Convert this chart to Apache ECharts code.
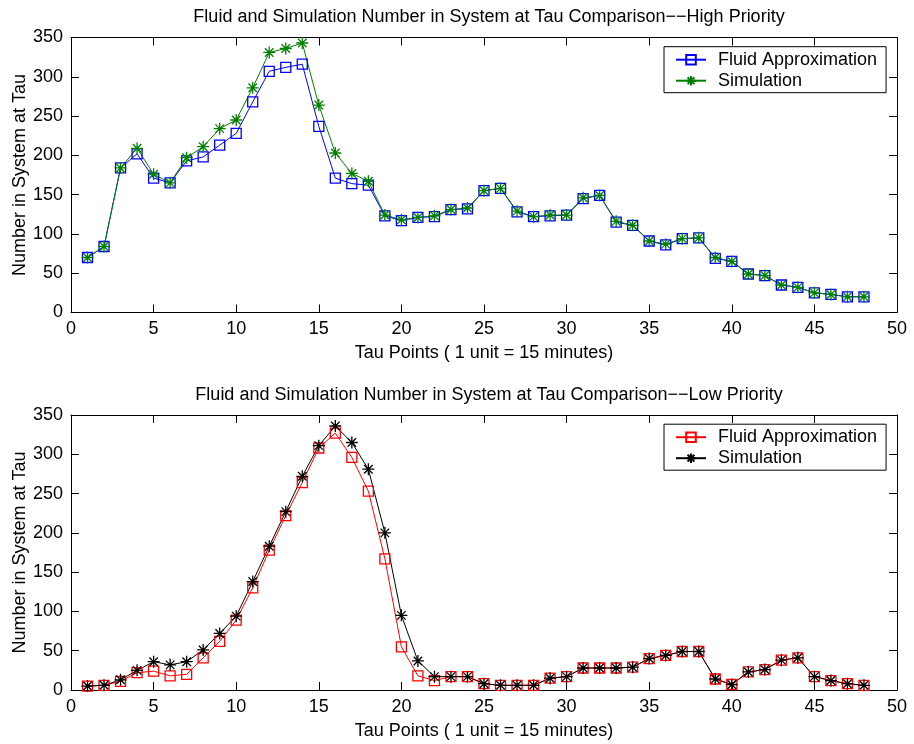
<!DOCTYPE html>
<html>
<head>
<meta charset="utf-8">
<title>Fluid and Simulation Number in System at Tau</title>
<script src="https://cdn.jsdelivr.net/npm/echarts@6/dist/echarts.min.js"></script>
<style>
  html, body { margin: 0; padding: 0; background: #ffffff; }
  #chart { width: 914px; height: 744px; }
</style>
</head>
<body>
<div id="chart"></div>
<script>
// Tau points (1 unit = 15 minutes)
const tau = [1, 2, 3, 4, 5, 6, 7, 8, 9, 10, 11, 12, 13, 14, 15, 16, 17, 18, 19, 20,
             21, 22, 23, 24, 25, 26, 27, 28, 29, 30, 31, 32, 33, 34, 35, 36, 37, 38, 39, 40,
             41, 42, 43, 44, 45, 46, 47, 48];

// High priority class
const highFluid = [70, 84, 184, 202, 171, 165, 193, 198, 213, 228, 268, 307, 312, 316, 237, 171, 164, 162, 123, 117,
                   121, 122, 131, 132, 155, 158, 128, 122, 123, 124, 145, 149, 115, 111, 91, 86, 94, 95, 69, 65,
                   49, 47, 35, 32, 25, 23, 20, 20];
const highSim   = [70, 84, 184, 209, 176, 165, 197, 211, 234, 245, 286, 331, 336, 343, 264, 203, 177, 167, 124, 118,
                   121, 123, 131, 133, 155, 158, 129, 122, 124, 124, 146, 149, 116, 111, 91, 87, 94, 95, 70, 65,
                   49, 47, 35, 32, 25, 23, 20, 20];

// Low priority class
const lowFluid = [5, 6, 11, 22, 24, 18, 20, 41, 62, 89, 130, 178, 222, 264, 308, 327, 296, 253, 167, 55,
                  18, 12, 17, 17, 8, 6, 6, 6, 15, 17, 28, 28, 28, 29, 40, 44, 49, 49, 14, 7,
                  23, 26, 38, 41, 17, 12, 8, 6];
const lowSim   = [5, 6, 13, 25, 36, 32, 36, 51, 72, 94, 138, 183, 227, 272, 311, 336, 315, 281, 200, 95,
                  37, 17, 17, 17, 8, 6, 6, 6, 15, 17, 28, 28, 28, 29, 40, 44, 49, 49, 14, 7,
                  23, 26, 38, 41, 17, 12, 8, 6];

// Axis ticks
const xTicks = [0, 5, 10, 15, 20, 25, 30, 35, 40, 45, 50];
const yTicks = [0, 50, 100, 150, 200, 250, 300, 350];

const titles = [
  'Fluid and Simulation Number in System at Tau Comparison\u2212\u2212High Priority',
  'Fluid and Simulation Number in System at Tau Comparison\u2212\u2212Low Priority'
];
const xName = 'Tau Points ( 1 unit = 15 minutes)';
const yName = 'Number in System at Tau';
const legendText = {
  hiFluid: 'Fluid Approximation', hiSim: 'Simulation',
  loFluid: 'Fluid Approximation', loSim: 'Simulation'
};

const FONT = '"Liberation Sans", Arial, Helvetica, sans-serif';
const FS = 18;
const STAR = 'path://M0,5L10,5M5,0L5,10M1.46,1.46L8.54,8.54M8.54,1.46L1.46,8.54';

const gridTops = [37.5, 415];
const plotH = 275;

function pairs(ys) { return tau.map((t, i) => [t, ys[i]]); }

const xStep = xTicks[1] - xTicks[0];
const yStep = yTicks[1] - yTicks[0];

const grids = [], xAxes = [], yAxes = [], series = [], legends = [], titleOpts = [];

gridTops.forEach((top, g) => {
  grids.push({ left: 71, width: 826, top: top, height: plotH, show: false,
               containLabel: false, outerBoundsMode: 'none' });

  const lineCommon = { show: true, onZero: false, lineStyle: { color: '#000', width: 1 } };
  const tickCommon = { show: true, inside: true, length: 8, lineStyle: { color: '#000', width: 1 } };

  xAxes.push({
    gridIndex: g, type: 'value', position: 'bottom',
    min: xTicks[0], max: xTicks[xTicks.length - 1], interval: xStep,
    axisLine: lineCommon, axisTick: tickCommon, splitLine: { show: false },
    axisLabel: { color: '#000', fontFamily: FONT, fontSize: FS, margin: 8 },
    name: xName, nameLocation: 'middle', nameGap: 32, nameMoveOverlap: false,
    nameTextStyle: { color: '#000', fontFamily: FONT, fontSize: FS }
  });
  xAxes.push({
    gridIndex: g, type: 'value', position: 'top',
    min: xTicks[0], max: xTicks[xTicks.length - 1], interval: xStep,
    axisLine: lineCommon, axisTick: tickCommon, splitLine: { show: false },
    axisLabel: { show: false }
  });
  yAxes.push({
    gridIndex: g, type: 'value', position: 'left',
    min: yTicks[0], max: yTicks[yTicks.length - 1], interval: yStep,
    axisLine: lineCommon, axisTick: tickCommon, splitLine: { show: false },
    axisLabel: { color: '#000', fontFamily: FONT, fontSize: FS, margin: 8 },
    name: yName, nameLocation: 'middle', nameGap: 42, nameRotate: 90, nameMoveOverlap: false,
    nameTextStyle: { color: '#000', fontFamily: FONT, fontSize: FS }
  });
  yAxes.push({
    gridIndex: g, type: 'value', position: 'right',
    min: yTicks[0], max: yTicks[yTicks.length - 1], interval: yStep,
    axisLine: lineCommon, axisTick: tickCommon, splitLine: { show: false },
    axisLabel: { show: false }
  });

  titleOpts.push({
    text: titles[g], left: 484, top: top - 34, textAlign: 'center',
    textStyle: { color: '#000', fontFamily: FONT, fontSize: FS, fontWeight: 'normal' }
  });
});

function lineSeries(name, g, ys, color, symbol, size) {
  return {
    name: name, type: 'line', xAxisIndex: 2 * g, yAxisIndex: 2 * g,
    data: pairs(ys), symbol: symbol, symbolSize: size, showAllSymbol: true,
    animation: false, clip: false,
    lineStyle: { color: color, width: 1 },
    itemStyle: { color: 'rgba(0,0,0,0)', borderColor: color, borderWidth: 1.3 },
    emphasis: { disabled: true }
  };
}

series.push(lineSeries('hiFluid', 0, highFluid, '#0000ff', 'rect', 10));
series.push(lineSeries('hiSim', 0, highSim, '#008000', STAR, 12));
series.push(lineSeries('loFluid', 1, lowFluid, '#ff0000', 'rect', 10));
series.push(lineSeries('loSim', 1, lowSim, '#000000', STAR, 12));

[['hiFluid', 'hiSim'], ['loFluid', 'loSim']].forEach((names, g) => {
  legends.push({
    data: names, orient: 'vertical', left: 664, top: gridTops[g] + 9.2,
    itemWidth: 30, itemHeight: 12, itemGap: 3,
    padding: [4, 9, 3, 11],
    borderColor: '#000', borderWidth: 1, backgroundColor: '#fff',
    selectedMode: false,
    formatter: n => legendText[n],
    textStyle: { color: '#000', fontFamily: FONT, fontSize: FS, padding: [0, 0, 0, 7] }
  });
});

const chart = echarts.init(document.getElementById('chart'), null, { renderer: 'canvas' });
chart.setOption({
  animation: false,
  backgroundColor: '#ffffff',
  title: titleOpts,
  grid: grids,
  xAxis: xAxes,
  yAxis: yAxes,
  legend: legends,
  series: series
});
</script>
</body>
</html>
